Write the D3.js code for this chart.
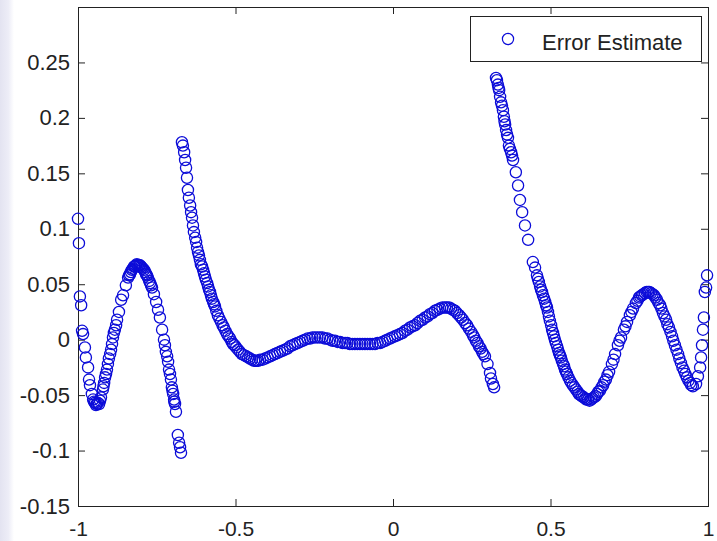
<!DOCTYPE html>
<html>
<head>
<meta charset="utf-8">
<script src="https://cdn.jsdelivr.net/npm/d3@7"></script>
<style>
  html, body { margin: 0; padding: 0; background: #ffffff; }
  svg { display: block; }
  text { font-family: "Liberation Sans", Arial, Helvetica, sans-serif; fill: #222; }
</style>
</head>
<body>
<svg id="chart" width="717" height="541"></svg>
<script>
// Error estimate samples, grouped by the three branches of the curve.
const leftBranchX = [
  -1.000, -0.997, -0.994, -0.990, -0.987, -0.984, -0.978, -0.975, -0.968, -0.965,
  -0.962, -0.956, -0.952, -0.946, -0.940, -0.933, -0.930, -0.927, -0.921, -0.917,
  -0.914, -0.911, -0.908, -0.905, -0.898, -0.895, -0.889, -0.883, -0.876, -0.870,
  -0.863, -0.857, -0.848, -0.841, -0.835, -0.829, -0.822, -0.816, -0.810, -0.803,
  -0.797, -0.790, -0.784, -0.778, -0.771, -0.765, -0.759, -0.752, -0.746, -0.740,
  -0.733, -0.727, -0.721, -0.714, -0.711, -0.705, -0.702, -0.698, -0.695, -0.692,
  -0.689, -0.683, -0.679, -0.676, -0.673,
  -0.949, -0.943, -0.937, -0.919, -0.902, -0.892, -0.886, -0.879, -0.838, -0.832,
  -0.826, -0.819, -0.813, -0.806, -0.800, -0.794, -0.787, -0.781, -0.774, -0.768,
  -0.724, -0.717, -0.708, -0.700, -0.694
];
const leftBranchY = [
   0.109,  0.087,  0.039,  0.031,  0.008,  0.005, -0.007, -0.016, -0.025, -0.036,
  -0.041, -0.049, -0.054, -0.057, -0.058, -0.058, -0.055, -0.052, -0.045, -0.039,
  -0.034, -0.031, -0.027, -0.022, -0.013, -0.009,  0.002,  0.009,  0.018,  0.025,
   0.036,  0.040,  0.049,  0.056,  0.059,  0.063,  0.066,  0.067,  0.067,  0.067,
   0.065,  0.063,  0.059,  0.056,  0.051,  0.047,  0.041,  0.034,  0.027,  0.020,
   0.009,  0.000, -0.011, -0.020, -0.027, -0.036, -0.043, -0.049, -0.054, -0.058,
  -0.065, -0.086, -0.093, -0.097, -0.102,
  -0.056, -0.059, -0.057, -0.042, -0.017, -0.004,  0.006,  0.013,  0.058,  0.061,
   0.064,  0.066,  0.068,  0.067,  0.066,  0.064,  0.061,  0.058,  0.053,  0.049,
  -0.005, -0.015, -0.031, -0.046, -0.056
];

const middleBranchX = [
  -0.670, -0.667, -0.663, -0.660, -0.657, -0.654, -0.651, -0.648, -0.641, -0.638,
  -0.635, -0.632, -0.625, -0.622, -0.616, -0.610, -0.603, -0.597, -0.590, -0.584,
  -0.578, -0.571, -0.565, -0.556, -0.546, -0.537, -0.527, -0.517, -0.508, -0.498,
  -0.486, -0.473, -0.460, -0.448, -0.435, -0.422, -0.406, -0.390, -0.375, -0.359,
  -0.343, -0.327, -0.311, -0.295, -0.279, -0.263, -0.248, -0.232, -0.216, -0.200,
  -0.184, -0.168, -0.152, -0.137, -0.121, -0.105, -0.089, -0.073, -0.057, -0.041,
  -0.025, -0.010,  0.006,  0.022,  0.038,  0.054,  0.070,  0.086,  0.102,  0.117,
   0.133,  0.149,  0.165,  0.178,  0.190,  0.203,  0.216,  0.229,  0.241,  0.254,
   0.263,  0.273,  0.283,  0.292,  0.308,  0.311,  0.317,  0.321,
  -0.644, -0.628, -0.619, -0.613, -0.606, -0.600, -0.594, -0.587, -0.581, -0.575,
  -0.568, -0.561, -0.551, -0.541, -0.532, -0.522, -0.512, -0.503, -0.492, -0.480,
  -0.466, -0.454, -0.441, -0.428, -0.414, -0.398, -0.382, -0.367, -0.351, -0.335,
  -0.319, -0.303, -0.287, -0.271, -0.256, -0.240, -0.224, -0.208, -0.192, -0.176,
  -0.160, -0.145, -0.129, -0.113, -0.097, -0.081, -0.065, -0.049, -0.033, -0.018,
  -0.002,  0.014,  0.030,  0.046,  0.062,  0.078,  0.094,  0.110,  0.125,  0.141,
   0.157,  0.171,  0.184,  0.197,  0.210,  0.222,  0.235,  0.248,  0.258,  0.268,
   0.278,  0.287,  0.300
];
const middleBranchY = [
   0.178,  0.175,  0.169,  0.162,  0.155,  0.146,  0.135,  0.128,  0.115,  0.110,
   0.103,  0.097,  0.088,  0.083,  0.076,  0.068,  0.063,  0.057,  0.051,  0.045,
   0.040,  0.034,  0.030,  0.022,  0.016,  0.011,  0.005,  0.001, -0.004, -0.007,
  -0.011, -0.014, -0.016, -0.018, -0.019, -0.018, -0.017, -0.015, -0.013, -0.011,
  -0.009, -0.006, -0.004, -0.002,  0.000,  0.001,  0.002,  0.002,  0.001,  0.000,
  -0.001, -0.002, -0.003, -0.004, -0.004, -0.004, -0.004, -0.004, -0.004, -0.003,
  -0.001,  0.001,  0.003,  0.005,  0.008,  0.011,  0.013,  0.017,  0.020,  0.023,
   0.026,  0.028,  0.029,  0.029,  0.027,  0.024,  0.020,  0.015,  0.010,  0.004,
  -0.001, -0.006, -0.011, -0.015, -0.030, -0.035, -0.040, -0.043,
   0.121,  0.092,  0.079,  0.072,  0.066,  0.060,  0.054,  0.048,  0.043,  0.037,
   0.032,  0.026,  0.019,  0.013,  0.008,  0.003, -0.002, -0.005, -0.009, -0.013,
  -0.015, -0.017, -0.019, -0.019, -0.018, -0.016, -0.014, -0.012, -0.010, -0.008,
  -0.005, -0.003, -0.001,  0.001,  0.002,  0.002,  0.002,  0.001, -0.001, -0.002,
  -0.003, -0.003, -0.004, -0.004, -0.004, -0.004, -0.004, -0.003, -0.002,  0.000,
   0.002,  0.004,  0.006,  0.009,  0.012,  0.015,  0.018,  0.021,  0.024,  0.027,
   0.029,  0.029,  0.028,  0.026,  0.022,  0.018,  0.013,  0.007,  0.002, -0.003,
  -0.008, -0.013, -0.022
];

const rightBranchX = [
   0.327,  0.330,  0.333,  0.337,  0.340,  0.343,  0.349,  0.352,  0.356,  0.359,
   0.365,  0.368,  0.375,  0.381,  0.390,  0.397,  0.403,  0.410,  0.419,  0.429,
   0.444,  0.451,  0.457,  0.463,  0.470,  0.476,  0.483,  0.489,  0.495,  0.502,
   0.508,  0.514,  0.521,  0.527,  0.533,  0.540,  0.546,  0.552,  0.562,  0.571,
   0.581,  0.590,  0.600,  0.610,  0.619,  0.629,  0.638,  0.648,  0.657,  0.667,
   0.676,  0.686,  0.695,  0.705,  0.714,  0.724,  0.733,  0.743,  0.752,  0.762,
   0.771,  0.781,  0.790,  0.800,  0.810,  0.819,  0.829,  0.838,  0.848,  0.857,
   0.867,  0.876,  0.886,  0.895,  0.905,  0.914,  0.924,  0.933,  0.943,  0.952,
   0.962,  0.968,  0.975,  0.978,  0.981,  0.984,  0.987,  0.990,  0.994,  0.997,
   0.335,  0.346,  0.354,  0.362,  0.371,  0.378,
   0.460,  0.467,  0.473,  0.480,  0.486,  0.492,  0.498,  0.505,  0.511,  0.517,
   0.524,  0.530,  0.536,  0.543,  0.549,  0.557,  0.566,  0.576,  0.586,  0.595,
   0.605,  0.614,  0.624,  0.633,  0.643,  0.652,  0.662,  0.671,  0.681,  0.700,
   0.719,  0.738,  0.757,  0.776,  0.785,  0.795,  0.805,  0.814,  0.824,  0.833,
   0.843,  0.852,  0.862,  0.871,  0.881,  0.890,  0.900,  0.909,  0.919,  0.928,
   0.938,  0.947
];
const rightBranchY = [
   0.236,  0.234,  0.230,  0.225,  0.219,  0.214,  0.207,  0.201,  0.194,  0.189,
   0.182,  0.175,  0.169,  0.162,  0.151,  0.139,  0.126,  0.115,  0.103,  0.090,
   0.070,  0.065,  0.058,  0.052,  0.045,  0.040,  0.034,  0.029,  0.021,  0.013,
   0.006,  0.000, -0.006, -0.012, -0.016, -0.022, -0.027, -0.031, -0.037, -0.041,
  -0.045, -0.049, -0.051, -0.053, -0.054, -0.054, -0.052, -0.049, -0.046, -0.041,
  -0.036, -0.029, -0.022, -0.013, -0.005,  0.002,  0.009,  0.016,  0.022,  0.028,
   0.033,  0.038,  0.040,  0.042,  0.043,  0.042,  0.040,  0.036,  0.031,  0.024,
   0.018,  0.011,  0.003, -0.005, -0.013, -0.021, -0.028, -0.034, -0.039, -0.042,
  -0.040, -0.033, -0.025, -0.016, -0.005,  0.009,  0.020,  0.043,  0.047,  0.058,
   0.227,  0.211,  0.197,  0.185,  0.172,  0.166,
   0.055,  0.048,  0.043,  0.037,  0.031,  0.025,  0.017,  0.009,  0.003, -0.003,
  -0.009, -0.014, -0.019, -0.024, -0.029, -0.034, -0.039, -0.043, -0.047, -0.050,
  -0.052, -0.054, -0.055, -0.053, -0.051, -0.047, -0.043, -0.038, -0.032, -0.018,
  -0.001,  0.012,  0.025,  0.035,  0.039,  0.041,  0.043,  0.043,  0.041,  0.038,
   0.033,  0.028,  0.021,  0.014,  0.007, -0.001, -0.009, -0.017, -0.025, -0.031,
  -0.037, -0.041
];

const xTicks = [-1, -0.5, 0, 0.5, 1];
const yTicks = [-0.15, -0.1, -0.05, 0, 0.05, 0.1, 0.15, 0.2, 0.25];
const legendLabel = "Error Estimate";

const svg = d3.select("#chart");
const W = 717, H = 541;
const plot = { left: 78, right: 708, top: 7, bottom: 506 };

// Soft tinted strip along the left edge of the figure
const defs = svg.append("defs");
const grad = defs.append("linearGradient").attr("id", "edgeTint")
  .attr("x1", "0").attr("x2", "1").attr("y1", "0").attr("y2", "0");
grad.append("stop").attr("offset", "0%").attr("stop-color", "#e3e3f1");
grad.append("stop").attr("offset", "60%").attr("stop-color", "#ededf7");
grad.append("stop").attr("offset", "100%").attr("stop-color", "#ffffff");
svg.append("rect").attr("x", 0).attr("y", 0).attr("width", W).attr("height", H).attr("fill", "#ffffff");
svg.append("rect").attr("x", 0).attr("y", 0).attr("width", 14).attr("height", H).attr("fill", "url(#edgeTint)");

const x = d3.scaleLinear().domain([-1, 1]).range([plot.left, plot.right]);
const y = d3.scaleLinear().domain([-0.15, 0.3]).range([plot.bottom, plot.top]);

const fmt = d => String(d);
const axisColor = "#222";

function styleAxis(size) {
  return g => {
    g.select(".domain").remove();
    g.selectAll(".tick line").attr("stroke", axisColor).attr("stroke-width", 1);
    g.selectAll(".tick text").style("font-size", size + "px").attr("fill", "#222");
  };
}

svg.append("g").attr("transform", `translate(0,${plot.bottom})`)
  .call(d3.axisBottom(x).tickValues(xTicks).tickFormat(fmt).tickSizeInner(-7).tickSizeOuter(0).tickPadding(15))
  .call(styleAxis(21));
svg.append("g").attr("transform", `translate(0,${plot.top})`)
  .call(d3.axisTop(x).tickValues(xTicks).tickFormat("").tickSizeInner(-7).tickSizeOuter(0))
  .call(styleAxis(21));
svg.append("g").attr("transform", `translate(${plot.left},0)`)
  .call(d3.axisLeft(y).tickValues(yTicks).tickFormat(fmt).tickSizeInner(-7).tickSizeOuter(0).tickPadding(8))
  .call(styleAxis(22));
svg.append("g").attr("transform", `translate(${plot.right},0)`)
  .call(d3.axisRight(y).tickValues(yTicks).tickFormat("").tickSizeInner(-7).tickSizeOuter(0))
  .call(styleAxis(22));

// Axes box
svg.append("rect")
  .attr("x", plot.left + 0.5).attr("y", plot.top + 0.5)
  .attr("width", plot.right - plot.left).attr("height", plot.bottom - plot.top)
  .attr("fill", "none").attr("stroke", axisColor).attr("stroke-width", 1);

// Scatter markers
const points = [];
[[leftBranchX, leftBranchY], [middleBranchX, middleBranchY], [rightBranchX, rightBranchY]]
  .forEach(([xs, ys]) => xs.forEach((v, i) => points.push({ x: v, y: ys[i] })));

const markerColor = "#0c0cd8";
svg.append("g").selectAll("circle").data(points).join("circle")
  .attr("cx", d => x(d.x)).attr("cy", d => y(d.y)).attr("r", 5.6)
  .attr("fill", "none").attr("stroke", markerColor).attr("stroke-width", 1.3);

// Legend
const lg = svg.append("g");
lg.append("rect").attr("x", 470.5).attr("y", 16.5).attr("width", 231).attr("height", 45)
  .attr("fill", "#ffffff").attr("stroke", axisColor).attr("stroke-width", 1);
lg.append("circle").attr("cx", 508).attr("cy", 39).attr("r", 5.6)
  .attr("fill", "none").attr("stroke", markerColor).attr("stroke-width", 1.2);
lg.append("text").attr("x", 542).attr("y", 50).style("font-size", "22px").text(legendLabel);
</script>
</body>
</html>
